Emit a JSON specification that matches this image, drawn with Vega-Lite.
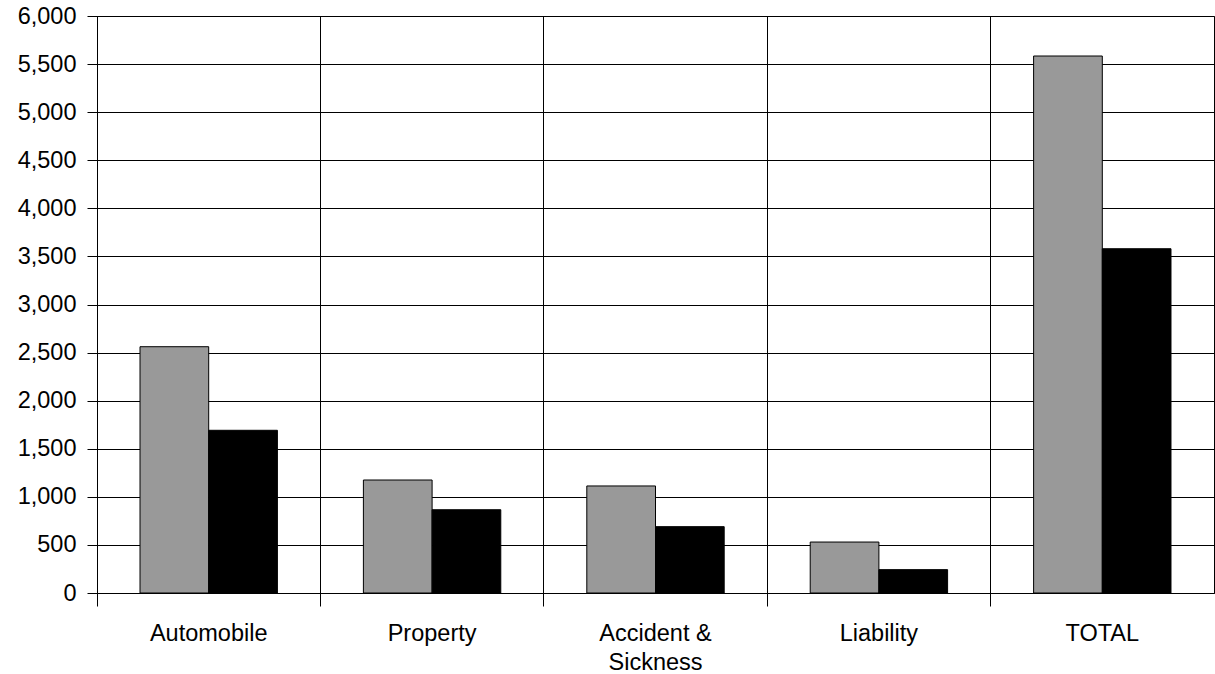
{
  "$schema": "https://vega.github.io/schema/vega-lite/v6.json",
  "width": 1117,
  "height": 577,
  "autosize": {"type": "none"},
  "padding": {"left": 97, "top": 16, "right": 1, "bottom": 81},
  "background": "white",
  "config": {
    "view": {"stroke": "black", "strokeWidth": 1},
    "font": "Liberation Sans"
  },
  "data": {
    "values": [
      {"category": "Automobile", "series": "A", "value": 2561},
      {"category": "Automobile", "series": "B", "value": 1692},
      {"category": "Property", "series": "A", "value": 1175},
      {"category": "Property", "series": "B", "value": 866},
      {"category": "Accident & Sickness", "series": "A", "value": 1113},
      {"category": "Accident & Sickness", "series": "B", "value": 690},
      {"category": "Liability", "series": "A", "value": 530},
      {"category": "Liability", "series": "B", "value": 243},
      {"category": "TOTAL", "series": "A", "value": 5584},
      {"category": "TOTAL", "series": "B", "value": 3580}
    ]
  },
  "mark": {"type": "bar", "stroke": "black", "strokeWidth": 1},
  "encoding": {
    "x": {
      "field": "category",
      "type": "nominal",
      "sort": ["Automobile", "Property", "Accident & Sickness", "Liability", "TOTAL"],
      "scale": {"paddingInner": 0, "paddingOuter": 0},
      "axis": {
        "title": null,
        "bandPosition": 0,
        "grid": true,
        "gridColor": "black",
        "gridOpacity": 1,
        "gridWidth": 1,
        "ticks": true,
        "tickSize": 13,
        "tickColor": "black",
        "tickWidth": 1,
        "domain": true,
        "domainColor": "black",
        "labelAngle": 0,
        "labelDx": 111.7,
        "labelAlign": "center",
        "labelBaseline": "top",
        "labelPadding": 15,
        "labelFontSize": 23.5,
        "labelColor": "black",
        "labelLineHeight": 29,
        "labelFont": "Liberation Sans",
        "labelExpr": "datum.value == 'Accident & Sickness' ? ['Accident &', 'Sickness'] : datum.value"
      }
    },
    "xOffset": {
      "field": "series",
      "type": "nominal",
      "sort": ["A", "B"],
      "scale": {"paddingInner": 0, "paddingOuter": 0.626}
    },
    "y": {
      "field": "value",
      "type": "quantitative",
      "scale": {"domain": [0, 6000], "nice": false},
      "axis": {
        "title": null,
        "values": [0, 500, 1000, 1500, 2000, 2500, 3000, 3500, 4000, 4500, 5000, 5500, 6000],
        "format": ",.0f",
        "grid": true,
        "gridColor": "black",
        "gridOpacity": 1,
        "gridWidth": 1,
        "ticks": true,
        "tickSize": 10,
        "tickColor": "black",
        "domain": true,
        "domainColor": "black",
        "labelFontSize": 23.5,
        "labelColor": "black",
        "labelPadding": 11,
        "labelFont": "Liberation Sans"
      }
    },
    "color": {
      "field": "series",
      "type": "nominal",
      "scale": {"domain": ["A", "B"], "range": ["#999999", "#000000"]},
      "legend": null
    }
  }
}
